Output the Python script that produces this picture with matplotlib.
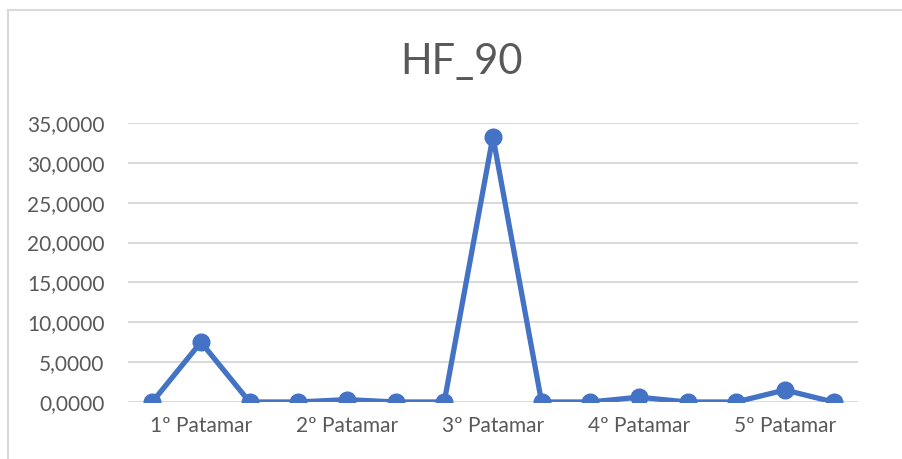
import matplotlib.pyplot as plt
from matplotlib.lines import Line2D

plt.rcParams["font.family"] = ["Lato", "DejaVu Sans"]

patamares = ["1º Patamar", "2º Patamar", "3º Patamar", "4º Patamar", "5º Patamar"]
valores = [0.0, 7.5, 0.0, 0.0, 0.3, 0.0, 0.0, 33.3, 0.0, 0.0, 0.6, 0.0, 0.0, 1.5, 0.0]
yticks = [0, 5, 10, 15, 20, 25, 30, 35]

text_color = "#595959"
grid_color = "#D9D9D9"

fig = plt.figure(figsize=(9.03, 4.59), dpi=100)
ax = fig.add_axes([0.1417, 0.1242, 0.8083, 0.6078])

x = list(range(len(valores)))
ax.plot(x, valores, "-o", color="#4472C4", linewidth=3.8, markersize=12, zorder=3)

ax.set_xlim(-0.5, len(valores) - 0.5)
ax.set_ylim(0, 35)
ax.set_yticks(yticks)
ax.set_yticklabels([f"{v:.4f}".replace(".", ",") for v in yticks])
ax.set_xticks([1 + 3 * i for i in range(len(patamares))])
ax.set_xticklabels(patamares)

ax.tick_params(axis="y", length=0, pad=17, labelsize=15, labelcolor=text_color)
ax.tick_params(axis="x", length=0, pad=10, labelsize=15, labelcolor=text_color)
ax.grid(axis="y", color=grid_color, linewidth=1.4)
ax.set_axisbelow(True)
for s in ax.spines.values():
    s.set_visible(False)

fig.text(0.5116, 1 - 62 / 459, "HF_90", ha="center", va="center",
         fontsize=30, color=text_color)

# chart border (top and left edges only visible)
fig.add_artist(Line2D([8 / 903, 1], [1 - 10 / 459, 1 - 10 / 459],
                      transform=fig.transFigure, color=grid_color, linewidth=1.5))
fig.add_artist(Line2D([8 / 903, 8 / 903], [0, 1 - 10 / 459],
                      transform=fig.transFigure, color=grid_color, linewidth=1.5))

fig.savefig("out.png", dpi=100)
